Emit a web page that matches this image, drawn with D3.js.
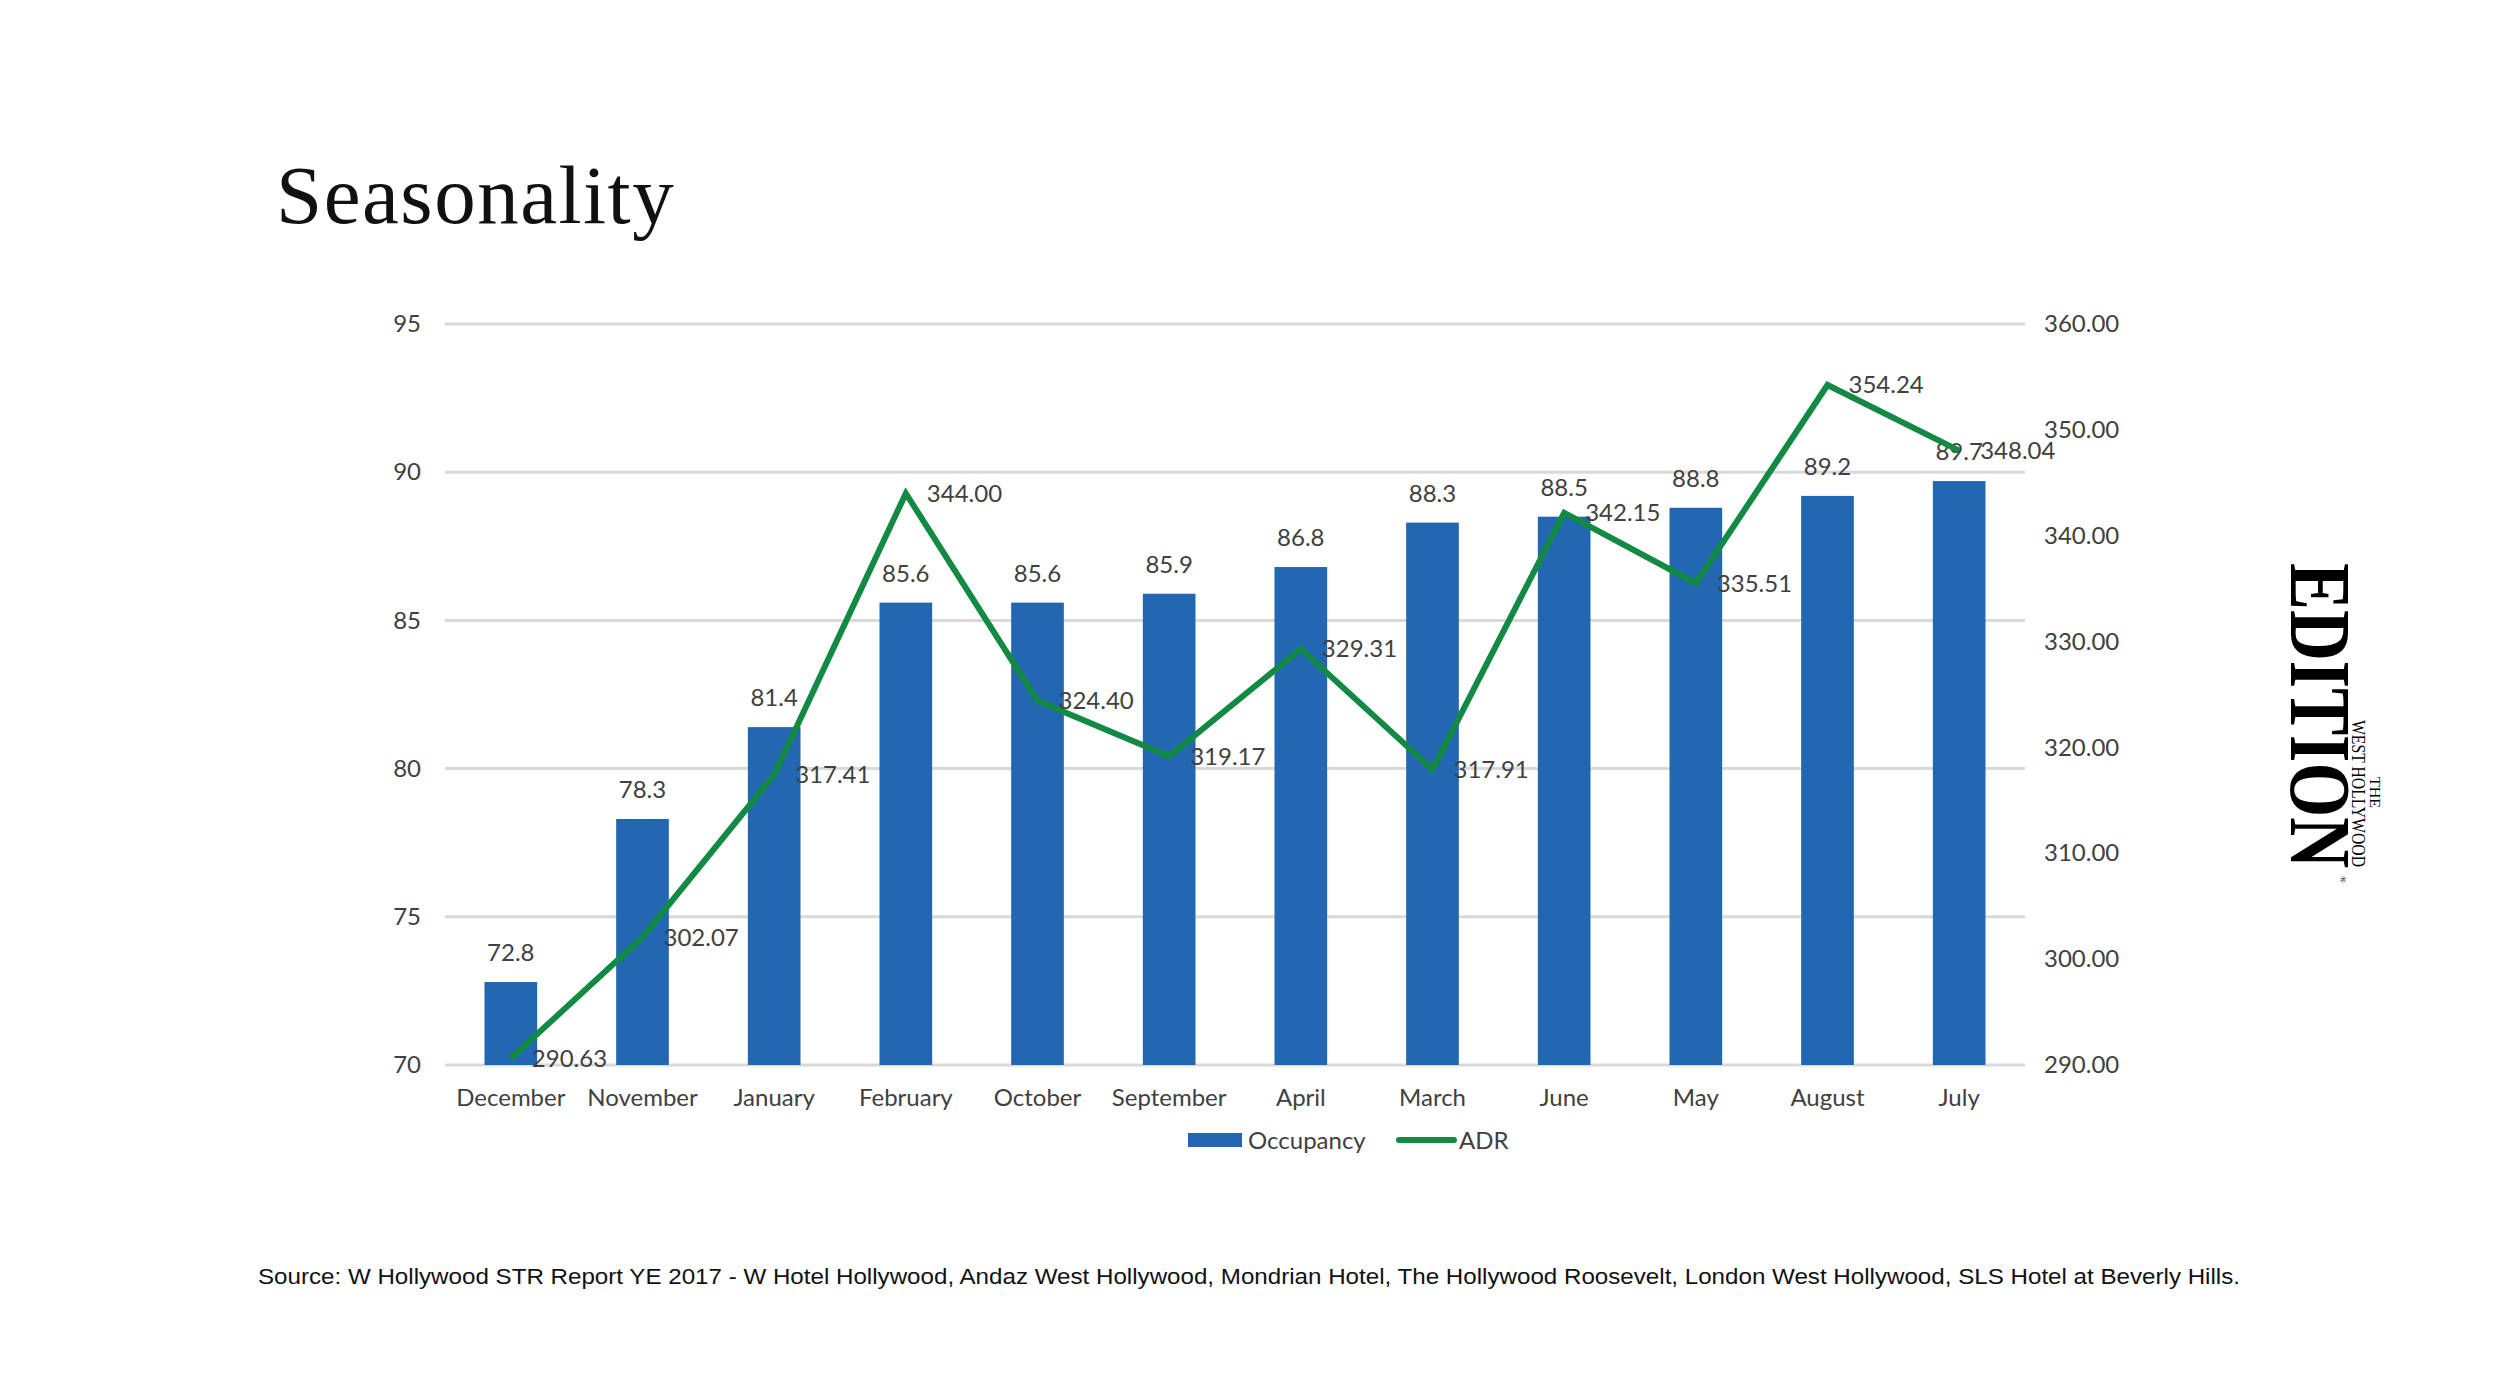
<!DOCTYPE html>
<html>
<head>
<meta charset="utf-8">
<script src="https://cdn.jsdelivr.net/npm/d3@7"></script>
<style>
  html, body { margin: 0; padding: 0; background: #fff; }
  svg { display: block; }
</style>
</head>
<body>
<svg id="chart" width="2500" height="1400"></svg>
<script>
// datos
const months = ["December", "November", "January", "February", "October", "September",
  "April", "March", "June", "May", "August", "July"];
const occupancy = [72.8, 78.3, 81.4, 85.6, 85.6, 85.9, 86.8, 88.3, 88.5, 88.8, 89.2, 89.7];
const adr = [290.63, 302.07, 317.41, 344.00, 324.40, 319.17, 329.31, 317.91, 342.15, 335.51, 354.24, 348.04];
const occTicks = [70, 75, 80, 85, 90, 95];
const adrTicks = [290, 300, 310, 320, 330, 340, 350, 360];
const seriesNames = ["Occupancy", "ADR"];

const blue = "#2366B1";
const green = "#128A43";
const axisFont = "Lato, 'Open Sans', sans-serif";
const textColor = "#404040";

const svg = d3.select("#chart");

const plot = { left: 445, right: 2025, top: 324, bottom: 1065 };

const x = d3.scaleBand()
  .domain(months)
  .range([plot.left, plot.right])
  .paddingInner(0.6)
  .paddingOuter(0.3);

const yOcc = d3.scaleLinear().domain([70, 95]).range([plot.bottom, plot.top]);
const yAdr = d3.scaleLinear().domain([290, 360]).range([plot.bottom, plot.top]);

// titulo
svg.append("text")
  .attr("x", 276)
  .attr("y", 223)
  .attr("font-family", "'Liberation Serif', 'DejaVu Serif', serif")
  .attr("font-size", 83)
  .attr("letter-spacing", 1.5)
  .attr("fill", "#111")
  .text("Seasonality");

// lineas de cuadricula
svg.append("g")
  .selectAll("line")
  .data(occTicks)
  .enter()
  .append("line")
  .attr("x1", plot.left)
  .attr("x2", plot.right)
  .attr("y1", (d) => yOcc(d))
  .attr("y2", (d) => yOcc(d))
  .attr("stroke", "#d9d9d9")
  .attr("stroke-width", 3);

// eje izquierdo
const leftAxis = svg.append("g")
  .attr("transform", `translate(${plot.left - 24},0)`)
  .call(d3.axisLeft(yOcc).tickValues(occTicks).tickSize(0).tickPadding(0).tickFormat(d3.format("d")));
leftAxis.select(".domain").remove();
leftAxis.selectAll("text")
  .attr("font-family", axisFont)
  .attr("font-size", 24)
  .attr("fill", textColor);

// eje derecho
const rightAxis = svg.append("g")
  .attr("transform", `translate(${plot.right + 19},0)`)
  .call(d3.axisRight(yAdr).tickValues(adrTicks).tickSize(0).tickPadding(0).tickFormat(d3.format(".2f")));
rightAxis.select(".domain").remove();
rightAxis.selectAll("text")
  .attr("font-family", axisFont)
  .attr("font-size", 24)
  .attr("fill", textColor);

// eje inferior (meses)
const bottomAxis = svg.append("g")
  .attr("transform", `translate(0,${plot.bottom})`)
  .call(d3.axisBottom(x).tickSize(0).tickPadding(24));
bottomAxis.select(".domain").remove();
bottomAxis.selectAll("text")
  .attr("font-family", axisFont)
  .attr("font-size", 24)
  .attr("fill", textColor);

// barras
svg.append("g")
  .selectAll("rect")
  .data(occupancy)
  .enter()
  .append("rect")
  .attr("x", (d, i) => x(months[i]))
  .attr("y", (d) => yOcc(d))
  .attr("width", x.bandwidth())
  .attr("height", (d) => plot.bottom - yOcc(d))
  .attr("fill", blue);

// etiquetas de barras
svg.append("g")
  .selectAll("text")
  .data(occupancy)
  .enter()
  .append("text")
  .attr("x", (d, i) => x(months[i]) + x.bandwidth() / 2)
  .attr("y", (d) => yOcc(d) - 21)
  .attr("text-anchor", "middle")
  .attr("font-family", axisFont)
  .attr("font-size", 24)
  .attr("fill", textColor)
  .text((d) => d.toFixed(1));

// linea ADR
const line = d3.line()
  .x((d, i) => x(months[i]) + x.bandwidth() / 2)
  .y((d) => yAdr(d));

svg.append("path")
  .datum(adr)
  .attr("d", line)
  .attr("fill", "none")
  .attr("stroke", green)
  .attr("stroke-width", 6)
  .attr("stroke-linejoin", "miter");

// etiquetas ADR
svg.append("g")
  .selectAll("text")
  .data(adr)
  .enter()
  .append("text")
  .attr("x", (d, i) => x(months[i]) + x.bandwidth() / 2 + 21)
  .attr("y", (d) => yAdr(d) + 8.5)
  .attr("font-family", axisFont)
  .attr("font-size", 24)
  .attr("fill", textColor)
  .text((d) => d.toFixed(2));

// leyenda
const legend = svg.append("g").attr("transform", "translate(1188,1140)");
legend.append("rect")
  .attr("x", 0).attr("y", -7)
  .attr("width", 54).attr("height", 14)
  .attr("fill", blue);
legend.append("text")
  .attr("x", 60).attr("y", 8.5)
  .attr("font-family", axisFont).attr("font-size", 24).attr("fill", textColor)
  .text(seriesNames[0]);
legend.append("line")
  .attr("x1", 211).attr("x2", 266)
  .attr("y1", 0).attr("y2", 0)
  .attr("stroke", green).attr("stroke-width", 6).attr("stroke-linecap", "round");
legend.append("text")
  .attr("x", 271).attr("y", 8.5)
  .attr("font-family", axisFont).attr("font-size", 24).attr("fill", textColor)
  .text(seriesNames[1]);

// fuente
svg.append("text")
  .attr("x", 258)
  .attr("y", 1284)
  .attr("font-family", "'Liberation Sans', Arial, sans-serif")
  .attr("font-size", 22)
  .attr("fill", "#111")
  .attr("textLength", 1982)
  .attr("lengthAdjust", "spacingAndGlyphs")
  .text("Source:  W Hollywood STR Report YE 2017 - W Hotel Hollywood, Andaz West Hollywood, Mondrian Hotel, The Hollywood Roosevelt, London West Hollywood, SLS Hotel at Beverly Hills.");

// logo EDITION (vertical)
const logo = svg.append("g").attr("font-family", "'Liberation Serif', 'DejaVu Serif', serif").attr("fill", "#000");
logo.append("text")
  .attr("transform", "translate(2291,563) rotate(90)")
  .attr("font-size", 86)
  .attr("font-weight", "bold")
  .attr("textLength", 305)
  .attr("lengthAdjust", "spacingAndGlyphs")
  .text("EDITION");
logo.append("text")
  .attr("transform", "translate(2352,720) rotate(90)")
  .attr("font-size", 18)
  .attr("textLength", 147)
  .attr("lengthAdjust", "spacingAndGlyphs")
  .text("WEST HOLLYWOOD");
logo.append("text")
  .attr("transform", "translate(2370,777) rotate(90)")
  .attr("font-size", 15)
  .attr("textLength", 31)
  .attr("lengthAdjust", "spacingAndGlyphs")
  .text("THE");
logo.append("text")
  .attr("transform", "translate(2340,876) rotate(90)")
  .attr("font-size", 9)
  .text("®");
</script>
</body>
</html>
